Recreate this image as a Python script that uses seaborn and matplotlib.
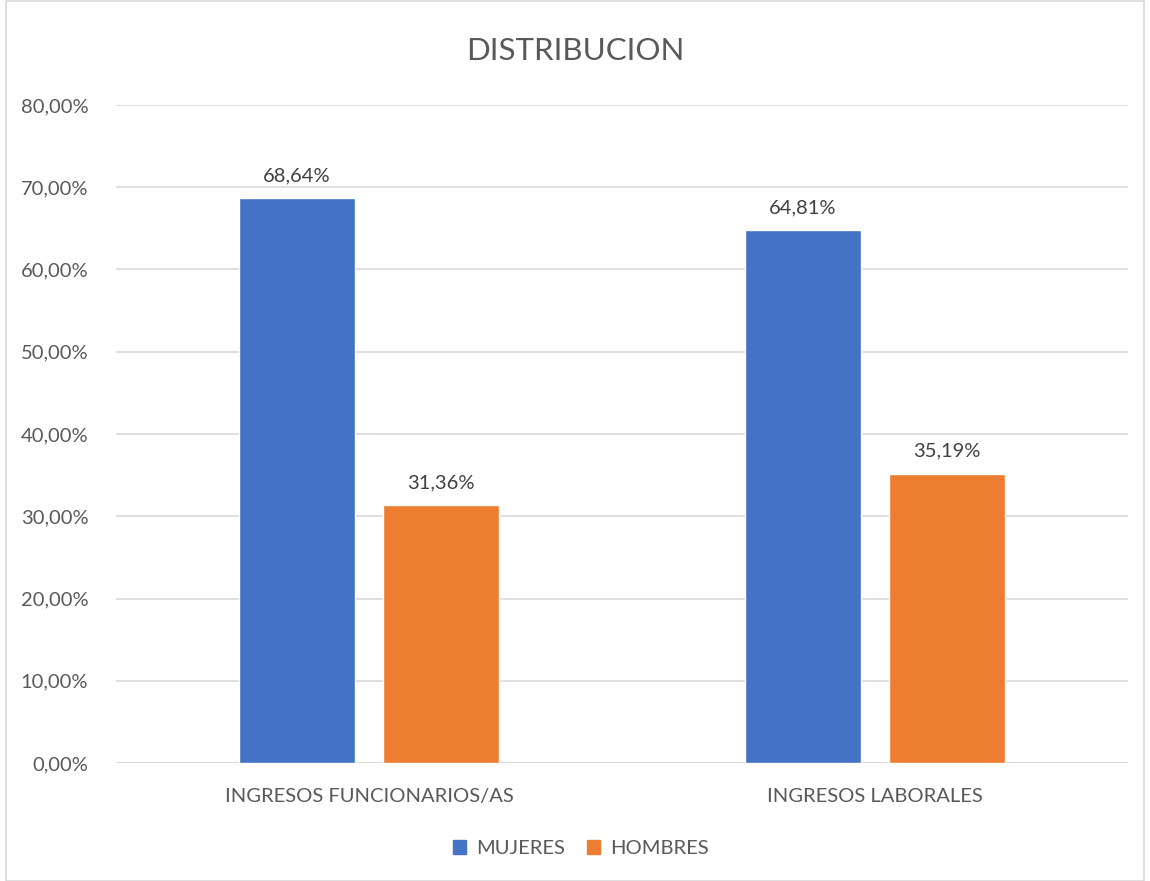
import pandas as pd
import matplotlib
matplotlib.use("Agg")
import matplotlib.pyplot as plt
import seaborn as sns
from matplotlib.patches import Rectangle

# -----------------------------
# DATA
# -----------------------------
categorias = ["INGRESOS FUNCIONARIOS/AS", "INGRESOS LABORALES"]
mujeres = [68.64, 64.81]
hombres = [31.36, 35.19]
series = ["MUJERES", "HOMBRES"]
yticks = [0, 10, 20, 30, 40, 50, 60, 70, 80]

df = pd.DataFrame({
    "categoria": categorias * 2,
    "serie": [series[0]] * len(categorias) + [series[1]] * len(categorias),
    "valor": mujeres + hombres,
})

# -----------------------------
# STYLE
# -----------------------------
sns.set_theme(style="white")
plt.rcParams["font.family"] = ["Lato", "DejaVu Sans"]
gris = "#595959"
colores = {"MUJERES": "#4472C4", "HOMBRES": "#ED7D31"}

fig = plt.figure(figsize=(11.5, 8.81), dpi=100)
ax = fig.add_axes([0.1009, 0.1339, 0.88, 0.747])

sns.barplot(data=df, x="categoria", y="valor", hue="serie", hue_order=series,
            palette=colores, width=0.57, gap=0.2, saturation=1, ax=ax,
            legend=False)

# data labels
for cont in ax.containers:
    ax.bar_label(cont, labels=[f"{v:.2f}%".replace(".", ",") for v in cont.datavalues],
                 padding=10, fontsize=14.5, color="#404040")

ax.set_ylim(0, 80)
ax.set_yticks(yticks)
ax.set_yticklabels([f"{t:.2f}%".replace(".", ",") for t in yticks], fontsize=14.5, color=gris)
ax.tick_params(axis="x", labelsize=14.5, labelcolor=gris, pad=18, length=0)
ax.tick_params(axis="y", length=0, pad=20)
ax.set_xlabel("")
ax.set_ylabel("")
ax.yaxis.grid(True, color="#D9D9D9", linewidth=1.2)
ax.set_axisbelow(True)
for s in ax.spines.values():
    s.set_visible(False)
ax.axhline(0, color="#D9D9D9", linewidth=1.2, zorder=0)

fig.text(0.5, 0.942, "DISTRIBUCION", ha="center", va="center", fontsize=22.5, color=gris)

# legend
handles = [Rectangle((0, 0), 1, 1, color=colores[s]) for s in series]
fig.legend(handles, series, loc="center", bbox_to_anchor=(0.505, 0.037), ncol=2,
           frameon=False, fontsize=14.5, labelcolor=gris, handlelength=0.65,
           handleheight=0.65, columnspacing=1.1, handletextpad=0.5)

# chart border
fig.patches.append(Rectangle((0.005, 0.0), 0.99, 0.999, transform=fig.transFigure,
                             fill=False, edgecolor="#D9D9D9", linewidth=1.2))

fig.savefig("out.png", dpi=100)
